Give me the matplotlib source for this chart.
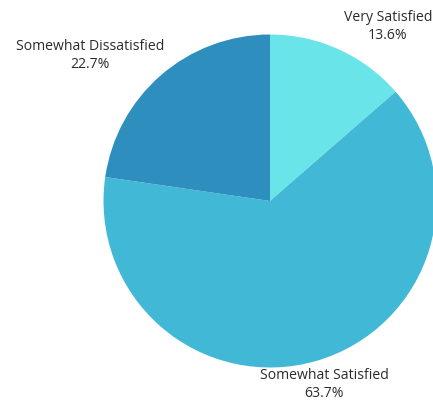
import matplotlib
matplotlib.use("Agg")
import matplotlib.pyplot as plt
import numpy as np

categories = ["Very Satisfied", "Somewhat Satisfied", "Somewhat Dissatisfied"]
shares = [13.6, 63.7, 22.7]
colors = ["#69e4e8", "#42b8d7", "#2e8ebe"]

# label placement (angle in degrees, radius as multiple of pie radius)
label_pos = [(56.0, 1.265), (-73.6, 1.15), (141.0, 1.39)]

W, H, DPI = 433, 401, 100
fig = plt.figure(figsize=(W / DPI, H / DPI), dpi=DPI)
cx, cy, r = 270, 201, 166.5
ax = fig.add_axes([(cx - r) / W, (H - cy - r) / H, 2 * r / W, 2 * r / H])
ax.pie(shares, colors=colors, startangle=90, counterclock=False, radius=1.0,
       wedgeprops=dict(linewidth=0))
ax.set_xlim(-1, 1)
ax.set_ylim(-1, 1)
ax.set_aspect("equal")
ax.axis("off")

for name, val, (ang, dist) in zip(categories, shares, label_pos):
    a = np.deg2rad(ang)
    ax.text(dist * np.cos(a), dist * np.sin(a), f"{name}\n{val:.1f}%",
            ha="center", va="center", fontsize=10.1, color="#2b2b2b",
            family=["Open Sans", "DejaVu Sans"], linespacing=1.3,
            clip_on=False)

fig.savefig("out.png", dpi=DPI)
